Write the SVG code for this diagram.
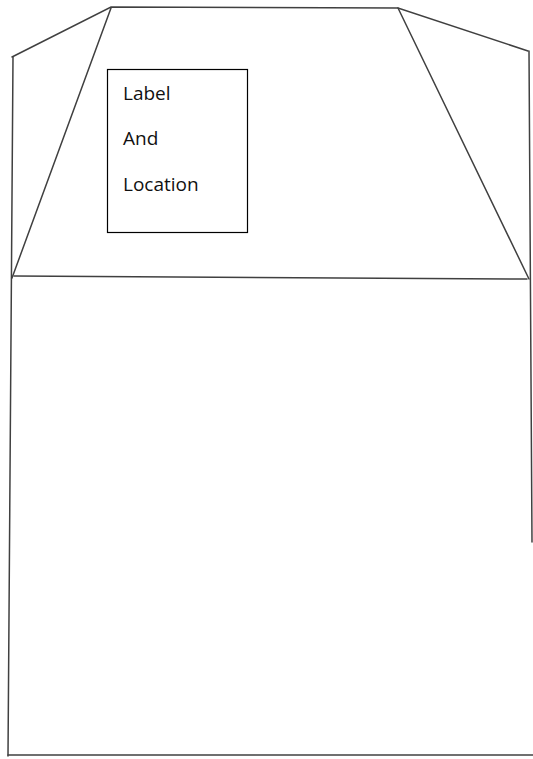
<svg xmlns="http://www.w3.org/2000/svg" width="533" height="759" viewBox="0 0 533 759">
<style>
.ln{stroke:#404040;stroke-width:1.5;fill:none;stroke-linecap:round}
.box{stroke:#000;stroke-width:1.2;fill:#fff}
.t{font-family:"Open Sans","Noto Sans",sans-serif;font-size:19px;fill:#111}
</style>
<rect width="533" height="759" fill="#fff"/>
<g id="outline">
<polyline class="ln" points="12,57 111,7 398,8 528,51"/>
<line class="ln" x1="13" y1="57" x2="8" y2="756"/>
<line class="ln" x1="111" y1="8" x2="12" y2="278"/>
<line class="ln" x1="14" y1="276" x2="527" y2="279"/>
<line class="ln" x1="398" y1="8" x2="529" y2="279"/>
<line class="ln" x1="529" y1="51" x2="532" y2="542"/>
<line class="ln" x1="8" y1="755" x2="533" y2="755"/>
</g>
<g id="label-box">
<rect class="box" x="107.5" y="69.5" width="140" height="163"/>
<text class="t" x="123" y="100">Label</text>
<text class="t" x="123" y="145">And</text>
<text class="t" x="123" y="191">Location</text>
</g>
</svg>
